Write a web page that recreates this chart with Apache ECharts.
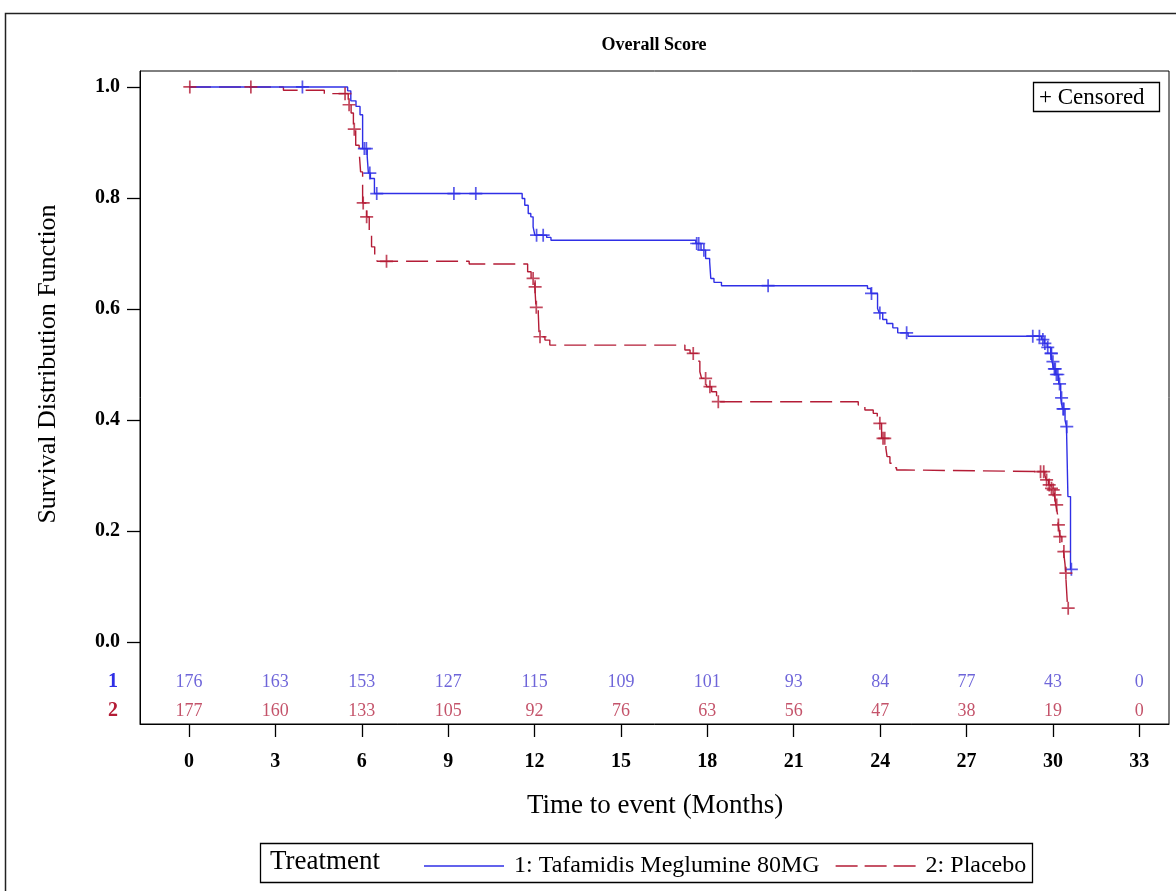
<!DOCTYPE html>
<html>
<head>
<meta charset="utf-8">
<script src="https://cdn.jsdelivr.net/npm/echarts@6/dist/echarts.min.js"></script>
<style>html,body{margin:0;padding:0;background:#fff;}#chart{width:1176px;height:891px;}</style>
</head>
<body>
<div id="chart"></div>
<script>
// ---------- data ----------
const xTicks = [0, 3, 6, 9, 12, 15, 18, 21, 24, 27, 30, 33];
const yTicks = [0, 0.2, 0.4, 0.6, 0.8, 1.0];
const riskTimes = [0, 3, 6, 9, 12, 15, 18, 21, 24, 27, 30, 33];
const riskTafamidis = [176, 163, 153, 127, 115, 109, 101, 93, 84, 77, 43, 0];
const riskPlacebo = [177, 160, 133, 105, 92, 76, 63, 56, 47, 38, 19, 0];
const seriesNames = ['1: Tafamidis Meglumine 80MG', '2: Placebo'];

// Kaplan-Meier steps [time (months), survival after event]
const tafamidisCurve = [
  [0, 1], [5.51, 0.993], [5.62, 0.975], [5.80, 0.965], [5.94, 0.950], [6.03, 0.889], [6.19, 0.874],
  [6.23, 0.845], [6.30, 0.835], [6.44, 0.808],
  [11.57, 0.799], [11.66, 0.787], [11.78, 0.772], [11.87, 0.766], [11.95, 0.748], [12.01, 0.733],
  [12.42, 0.729], [12.57, 0.724],
  [17.60, 0.718], [17.78, 0.706], [17.94, 0.691], [18.08, 0.685], [18.12, 0.655], [18.23, 0.648], [18.49, 0.642],
  [23.56, 0.637], [23.68, 0.628], [23.91, 0.601], [23.97, 0.593], [24.09, 0.581], [24.23, 0.574],
  [24.44, 0.566], [24.61, 0.557], [24.97, 0.551],
  [29.60, 0.545], [29.70, 0.538], [29.80, 0.531], [29.92, 0.520], [29.97, 0.505], [30.03, 0.492],
  [30.10, 0.482], [30.20, 0.465], [30.27, 0.440], [30.33, 0.420], [30.42, 0.400], [30.47, 0.388],
  [30.52, 0.262], [30.61, 0.131], [30.64, 0.131]
];
const tafamidisCensored = [
  [3.94, 1.0], [6.09, 0.889], [6.16, 0.889], [6.28, 0.845], [6.52, 0.808], [9.20, 0.808], [9.96, 0.808],
  [12.07, 0.733], [12.30, 0.733], [17.63, 0.718], [17.70, 0.718], [17.88, 0.706], [20.11, 0.642],
  [23.70, 0.628], [23.99, 0.593], [24.92, 0.557],
  [29.30, 0.551], [29.53, 0.551], [29.65, 0.545], [29.72, 0.538], [29.82, 0.531], [29.93, 0.520],
  [29.95, 0.520], [30.00, 0.505], [30.05, 0.492], [30.08, 0.492], [30.12, 0.482], [30.17, 0.482],
  [30.23, 0.465], [30.30, 0.440], [30.35, 0.420], [30.38, 0.420], [30.48, 0.388], [30.64, 0.131]
];
const placeboCurve = [
  [0, 1], [3.28, 0.994], [4.70, 0.988], [5.53, 0.968], [5.63, 0.953], [5.71, 0.924], [5.79, 0.895],
  [5.91, 0.883], [5.96, 0.847], [6.03, 0.791], [6.17, 0.766], [6.26, 0.736], [6.34, 0.712],
  [6.45, 0.694], [6.53, 0.686],
  [9.73, 0.681], [11.76, 0.667], [11.88, 0.655], [12.01, 0.640], [12.05, 0.603], [12.13, 0.592],
  [12.16, 0.550], [12.36, 0.544], [12.53, 0.535],
  [17.22, 0.526], [17.40, 0.520], [17.66, 0.506], [17.74, 0.487], [17.80, 0.475], [17.97, 0.460],
  [18.15, 0.451], [18.32, 0.442], [18.36, 0.433],
  [23.24, 0.427], [23.47, 0.418], [23.76, 0.412], [23.90, 0.394], [24.05, 0.367], [24.20, 0.349],
  [24.24, 0.334], [24.34, 0.322], [24.46, 0.314], [24.57, 0.310], [24.86, 0.307],
  [29.72, 0.300], [29.77, 0.292], [29.85, 0.283], [29.93, 0.277], [29.99, 0.274], [30.05, 0.265],
  [30.10, 0.247], [30.16, 0.230], [30.18, 0.211], [30.22, 0.200], [30.24, 0.190], [30.31, 0.175],
  [30.37, 0.163], [30.42, 0.140], [30.44, 0.124], [30.48, 0.088], [30.51, 0.061], [30.53, 0.061]
];
const placeboCensored = [
  [0.03, 1.0], [2.15, 1.0], [5.42, 0.988], [5.56, 0.968], [5.74, 0.924], [6.05, 0.791], [6.17, 0.766],
  [6.86, 0.686], [11.95, 0.655], [12.02, 0.640], [12.06, 0.603], [12.19, 0.550],
  [17.51, 0.520], [17.94, 0.475], [18.09, 0.460], [18.38, 0.433],
  [23.99, 0.394], [24.10, 0.367], [24.16, 0.367],
  [29.57, 0.307], [29.68, 0.307], [29.78, 0.292], [29.87, 0.283], [29.95, 0.277], [30.01, 0.274],
  [30.07, 0.265], [30.13, 0.247], [30.19, 0.211], [30.24, 0.190], [30.38, 0.163], [30.45, 0.124],
  [30.53, 0.061]
];

// ---------- layout / style ----------
const riskRowLevel = [-0.072, -0.124];   // vertical placement of the at-risk rows (axis units)
const BLUE = '#2f2fe6', RED = '#b41c36';
const BLUE_TXT = '#4a3fd0', RED_TXT = '#b52845';
const FONT = '"Liberation Serif", "Times New Roman", serif';
const PLUS = 'path://M5.2,0H6.8V5.2H12V6.8H6.8V12H5.2V6.8H0V5.2H5.2Z';
const SOLID_ICON = 'path://M0,0H80V1.5H0Z';
const DASH_ICON = 'path://M0,0H22V1.5H0Z M29,0H51V1.5H29Z M58,0H80V1.5H58Z';

const chart = echarts.init(document.getElementById('chart'), null, {renderer: 'canvas'});

function riskData(counts, row) {
  return riskTimes.map((t, i) => [t, riskRowLevel[row], counts[i]]);
}

const option = {
  backgroundColor: '#fff',
  animation: false,
  grid: {left: 140, top: 71, right: 7, bottom: 167, show: true, borderColor: '#000', borderWidth: 1},
  xAxis: {
    type: 'value', min: -1.70, max: 34.03,
    axisLine: {show: true, onZero: false, lineStyle: {color: '#000', width: 1}},
    axisTick: {show: true, customValues: xTicks, length: 13, lineStyle: {color: '#000', width: 1.3}},
    axisLabel: {customValues: xTicks, margin: 28, color: '#000', fontFamily: FONT, fontWeight: 'bold', fontSize: 20},
    splitLine: {show: false}
  },
  yAxis: {
    type: 'value', min: -0.1477, max: 1.0288,
    axisLine: {show: true, onZero: false, lineStyle: {color: '#000', width: 1}},
    axisTick: {show: true, customValues: yTicks, length: 13, lineStyle: {color: '#000', width: 1.3}},
    axisLabel: {
      customValues: yTicks.concat(riskRowLevel), margin: 20, color: '#000',
      fontFamily: FONT, fontWeight: 'bold', fontSize: 20,
      formatter: function (v) {
        if (Math.abs(v - riskRowLevel[0]) < 1e-6) return '{a|1}';
        if (Math.abs(v - riskRowLevel[1]) < 1e-6) return '{b|2}';
        return v.toFixed(1);
      },
      rich: {
        a: {color: BLUE, fontFamily: FONT, fontWeight: 'bold', fontSize: 20, padding: [0, 2, 0, 0]},
        b: {color: RED, fontFamily: FONT, fontWeight: 'bold', fontSize: 20, padding: [0, 2, 0, 0]}
      }
    },
    splitLine: {show: false}
  },
  legend: {
    data: [
      {name: seriesNames[0], icon: SOLID_ICON},
      {name: seriesNames[1], icon: DASH_ICON}
    ],
    left: 419, top: 849, itemWidth: 80, itemHeight: 2, itemGap: 16,
    textStyle: {fontFamily: FONT, fontSize: 24, color: '#000', padding: [0, 0, 0, 5]},
    selectedMode: false
  },
  graphic: [
    {type: 'rect', shape: {x: 5.5, y: 13.5, width: 1200, height: 1000}, style: {fill: 'none', stroke: '#222', lineWidth: 1.5}, silent: true},
    {type: 'text', x: 654, y: 45, style: {text: 'Overall Score', font: 'bold 18px ' + FONT, fill: '#000', align: 'center', verticalAlign: 'middle', textAlign: 'center', textVerticalAlign: 'middle'}},
    {type: 'text', x: 48, y: 364, rotation: Math.PI / 2, style: {text: 'Survival Distribution Function', font: '26px ' + FONT, fill: '#000', align: 'center', verticalAlign: 'middle', textAlign: 'center', textVerticalAlign: 'middle'}},
    {type: 'text', x: 655, y: 806, style: {text: 'Time to event (Months)', font: '27px ' + FONT, fill: '#000', align: 'center', verticalAlign: 'middle', textAlign: 'center', textVerticalAlign: 'middle'}},
    {type: 'rect', shape: {x: 260.5, y: 843.5, width: 772, height: 39}, style: {fill: 'none', stroke: '#000', lineWidth: 1.3}, silent: true},
    {type: 'text', x: 270, y: 862, style: {text: 'Treatment', font: '27px ' + FONT, fill: '#000', align: 'left', verticalAlign: 'middle', textAlign: 'left', textVerticalAlign: 'middle'}},
    {type: 'rect', shape: {x: 1033.5, y: 82.5, width: 126, height: 29}, style: {fill: '#fff', stroke: '#000', lineWidth: 1.3}, silent: true},
    {type: 'text', x: 1039, y: 97.5, style: {text: '+ Censored', font: '23px ' + FONT, fill: '#000', align: 'left', verticalAlign: 'middle', textAlign: 'left', textVerticalAlign: 'middle'}}
  ],
  series: [
    {
      name: seriesNames[0], type: 'line', step: 'end', symbol: 'none', data: tafamidisCurve,
      lineStyle: {color: BLUE, width: 1.4}, itemStyle: {color: BLUE}, z: 3
    },
    {
      name: seriesNames[1], type: 'line', step: 'end', symbol: 'none', data: placeboCurve,
      lineStyle: {color: RED, width: 1.4, type: [22, 8]}, itemStyle: {color: RED}, z: 2
    },
    {
      name: 'Censored 1', type: 'scatter', data: tafamidisCensored, symbol: PLUS, symbolSize: 13,
      itemStyle: {color: BLUE}, z: 4, silent: true
    },
    {
      name: 'Censored 2', type: 'scatter', data: placeboCensored, symbol: PLUS, symbolSize: 13,
      itemStyle: {color: RED}, z: 4, silent: true
    },
    {
      name: 'At risk 1', type: 'scatter', data: riskData(riskTafamidis, 0), symbolSize: 1,
      itemStyle: {color: 'rgba(0,0,0,0)'}, silent: true,
      label: {show: true, position: 'inside', formatter: p => String(p.value[2]), color: BLUE_TXT, fontFamily: FONT, fontSize: 18}
    },
    {
      name: 'At risk 2', type: 'scatter', data: riskData(riskPlacebo, 1), symbolSize: 1,
      itemStyle: {color: 'rgba(0,0,0,0)'}, silent: true,
      label: {show: true, position: 'inside', formatter: p => String(p.value[2]), color: RED_TXT, fontFamily: FONT, fontSize: 18}
    }
  ]
};
chart.setOption(option);
</script>
</body>
</html>
